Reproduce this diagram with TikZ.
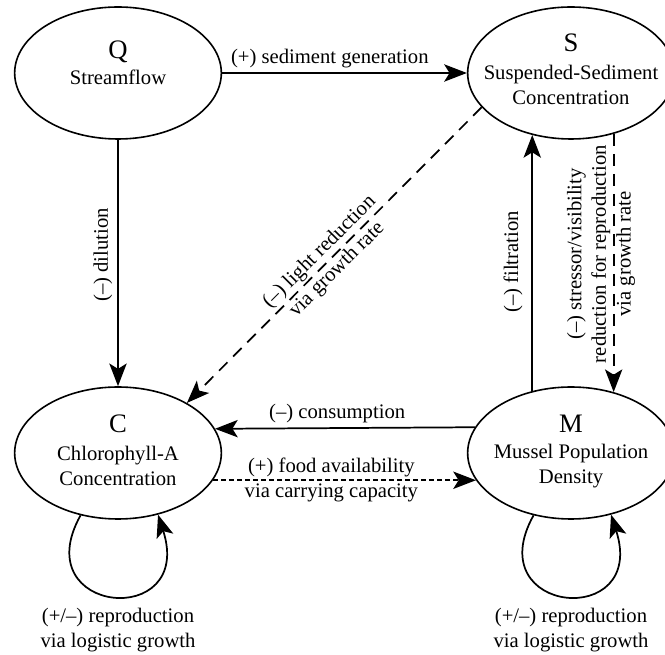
\documentclass[tikz,border=0pt]{standalone}
\usepackage{fontspec}
\setmainfont{Liberation Serif}
\usetikzlibrary{arrows.meta,shapes.geometric}

\tikzset{
  var/.style={draw, ellipse, line width=1.2pt, minimum width=155pt, minimum height=99pt, inner sep=0pt},
  ltr/.style={anchor=base, inner sep=0pt, font=\fontsize{20}{24}\selectfont},
  txt/.style={anchor=north, align=center, inner sep=0pt},
  arr/.style={line width=1.3pt, -{Stealth[length=17pt,width=13pt,inset=4pt]}},
  longdash/.style={dash pattern=on 9pt off 6pt},
  shortdash/.style={dash pattern=on 4pt off 2pt},
}

\begin{document}
\begin{tikzpicture}[x=0.75pt,y=0.75pt,yscale=-1,xscale=1,font=\fontsize{15.5}{18.5}\selectfont]
    \useasboundingbox (0,0) rectangle (665,655);

    %Shape: Ellipse
    \node[var] (q) at (118,73) {};
    \node[var] (s) at (571,73) {};
    \node[var] (c) at (118,453) {};
    \node[var] (m) at (571,453) {};

    % Text Node
    \node[ltr] (qltr) at (118,59) {Q};
    \node[txt] (qname) at (118,70) {Streamflow};
    \node[ltr] (sltr) at (571,52) {S};
    \node[txt] (sname) at (571,65) {Suspended-Sediment\\Concentration};
    \node[ltr] (cltr) at (118,433) {C};
    \node[txt] (cname) at (118,446) {Chlorophyll-A\\Concentration};
    \node[ltr] (mltr) at (571,433) {M};
    \node[txt] (mname) at (571,444) {Mussel Population\\Density};

    %Straight Lines
    \draw[arr] (q.east) -- (s.west) node[pos=.44, above=0pt] {(+) sediment generation};
    \draw[arr] (q.south) -- (c.north);
    \draw[arr, longdash] (s.201.5) -- (c.36) node[pos=.52, rotate=45, align=center] {(–) light reduction\\via growth rate};
    \draw[arr] (m.122.6) -- (s.-122.6);
    \draw[arr, longdash] (s.-55.1) -- (m.55.1);
    \draw[arr] (m.165.4) -- (c.14.6) node[pos=.53, above=0pt] {(–) consumption};
    \draw[arr, shortdash] (c.-16.6) -- (m.196.6) node[pos=.45, align=center] {(+) food availability\\via carrying capacity};

    %Curve Lines
    \draw[arr] (c.239) .. controls (25,615) and (195,630) .. (c.-57);
    \draw[arr] (m.239) .. controls (478,615) and (648,630) .. (m.-57);

    % Text Node
    \node[rotate=90] (dillab) at (103,255) {(–) dilution};
    \node[rotate=90] (filtlab) at (513,262) {(–) filtration};
    \node[rotate=90, align=center] (strlab) at (601,254) {(–) stressor/visibility\\reduction for reproduction\\via growth rate};
    \node[align=center] (crep) at (118,630) {(+/–) reproduction\\via logistic growth};
    \node[align=center] (mrep) at (571,630) {(+/–) reproduction\\via logistic growth};
\end{tikzpicture}
\end{document}
